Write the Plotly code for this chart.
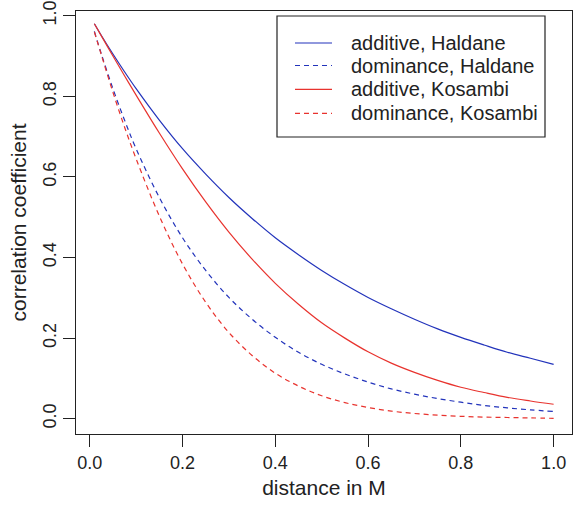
import plotly.graph_objects as go

distance = [0.01, 0.025, 0.05, 0.075, 0.1, 0.15, 0.2, 0.25, 0.3, 0.35, 0.4, 0.45,
            0.5, 0.55, 0.6, 0.65, 0.7, 0.75, 0.8, 0.85, 0.9, 0.95, 1.0]
additive_haldane = [0.980, 0.951, 0.905, 0.861, 0.819, 0.741, 0.670, 0.607, 0.549, 0.497, 0.449, 0.407,
                    0.368, 0.333, 0.301, 0.273, 0.247, 0.223, 0.202, 0.183, 0.165, 0.150, 0.135]
dominance_haldane = [0.961, 0.905, 0.819, 0.741, 0.670, 0.549, 0.449, 0.368, 0.301, 0.247, 0.202, 0.165,
                     0.135, 0.111, 0.091, 0.074, 0.061, 0.050, 0.041, 0.033, 0.027, 0.022, 0.018]
additive_kosambi = [0.980, 0.950, 0.900, 0.851, 0.803, 0.709, 0.620, 0.538, 0.463, 0.396, 0.336, 0.284,
                    0.238, 0.200, 0.166, 0.138, 0.115, 0.095, 0.078, 0.065, 0.053, 0.044, 0.036]
dominance_kosambi = [0.960, 0.903, 0.810, 0.724, 0.645, 0.503, 0.384, 0.289, 0.214, 0.157, 0.113, 0.081,
                     0.057, 0.040, 0.028, 0.019, 0.013, 0.009, 0.006, 0.004, 0.003, 0.002, 0.001]

x_ticks = [0.0, 0.2, 0.4, 0.6, 0.8, 1.0]
x_tick_labels = ["0.0", "0.2", "0.4", "0.6", "0.8", "1.0"]
y_ticks = [0.0, 0.2, 0.4, 0.6, 0.8, 1.0]
y_tick_labels = ["0.0", "0.2", "0.4", "0.6", "0.8", "1.0"]

BLUE = "#2233bb"
RED = "#e8332e"
INK = "#222222"

series = [
    ("additive, Haldane", additive_haldane, BLUE, "solid"),
    ("dominance, Haldane", dominance_haldane, BLUE, "5px,4px"),
    ("additive, Kosambi", additive_kosambi, RED, "solid"),
    ("dominance, Kosambi", dominance_kosambi, RED, "5px,4px"),
]

W, H = 573, 505
ML, MT = 76, 11
MR = W - 572
MB = H - 434
PW, PH = W - ML - MR, H - MT - MB


def px(xp):
    # window pixel -> paper x
    return (xp - ML) / PW


def py(yp):
    # window pixel -> paper y
    return (H - MB - yp) / PH


fig = go.Figure()
for name, vals, col, dash in series:
    fig.add_trace(go.Scatter(x=distance, y=vals, mode="lines", name=name, showlegend=False,
                             line=dict(color=col, width=1.2, dash=dash, shape="spline")))

FONT = "Liberation Sans, Arial, sans-serif"

# manual legend (box, key lines, labels)
shapes = [dict(type="rect", xref="paper", yref="paper",
               x0=px(277), x1=px(545), y0=py(16), y1=py(137),
               line=dict(color=INK, width=1.2), fillcolor="white", layer="above")]
annotations = []
row_y = [43, 65.5, 89.3, 113.3]
for (name, _, col, dash), ry in zip(series, row_y):
    shapes.append(dict(type="line", xref="paper", yref="paper",
                       x0=px(295), x1=px(332), y0=py(ry), y1=py(ry),
                       line=dict(color=col, width=1.2, dash=dash),
                       layer="above"))
    annotations.append(dict(text=name, xref="paper", yref="paper", x=px(349), y=py(ry),
                            xanchor="left", yanchor="middle", showarrow=False,
                            font=dict(size=20, family=FONT, color=INK)))

fig.update_layout(
    width=W, height=H,
    margin=dict(l=ML, r=MR, t=MT, b=MB, pad=0),
    plot_bgcolor="white", paper_bgcolor="white",
    font=dict(family=FONT, color=INK, size=18),
    showlegend=False,
    shapes=shapes,
    annotations=annotations,
)
fig.update_xaxes(range=[-0.0296, 1.0396], tickvals=x_ticks, ticktext=x_tick_labels,
                 ticks="outside", ticklen=12, tickwidth=1.2, tickcolor=INK,
                 showline=True, linecolor=INK, linewidth=1.3, mirror=True,
                 showgrid=False, zeroline=False, automargin=False,
                 tickfont=dict(size=18),
                 title=dict(text="distance in M", font=dict(size=21), standoff=8))
fig.update_yaxes(range=[-0.0379, 1.0117], tickvals=y_ticks, ticktext=y_tick_labels,
                 ticks="outside", ticklen=12, tickwidth=1.2, tickcolor=INK,
                 showline=True, linecolor=INK, linewidth=1.3, mirror=True,
                 showgrid=False, zeroline=False, tickangle=-90, automargin=False,
                 tickfont=dict(size=18),
                 title=dict(text="correlation coefficient", font=dict(size=21), standoff=7))

fig.write_html("out.html", config={"displayModeBar": False},
               post_script="document.body.style.margin='0';")
